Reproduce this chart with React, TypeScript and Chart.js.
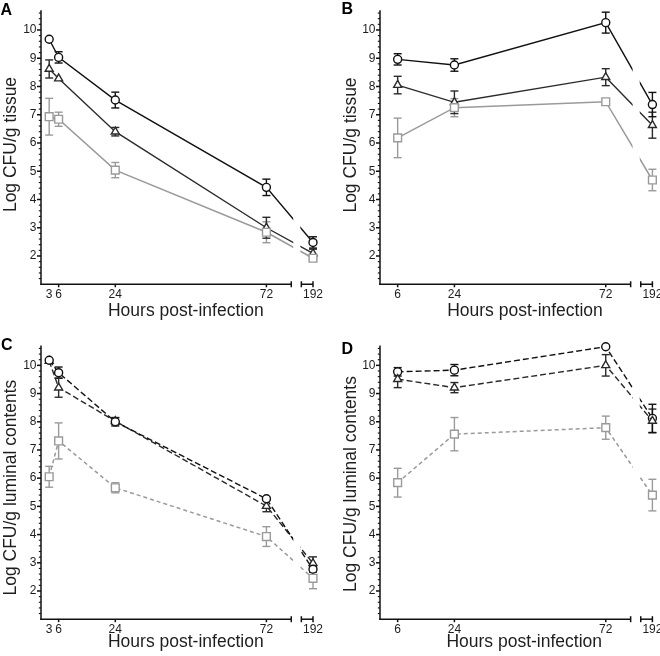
import React, { useEffect, useRef } from 'react';
import { Chart, registerables } from 'chart.js';

Chart.register(...registerables);

// ---------------- DATA ----------------
const HOURS_AC = [3, 6, 24, 72, 192];
const HOURS_BD = [6, 24, 72, 192];
const Y_TICKS = [2, 3, 4, 5, 6, 7, 8, 9, 10];

// Panel A – Log CFU/g tissue
const A_CIRCLE = [9.67, 9.03, 7.52, 4.43, 2.48];
const A_CIRCLE_SEM = [0, 0.2, 0.28, 0.29, 0.2];
const A_TRIANGLE = [8.62, 8.28, 6.4, 3.0, 2.09];
const A_TRIANGLE_SEM = [0.32, 0, 0.15, 0.37, 0.15];
const A_SQUARE = [6.93, 6.84, 5.04, 2.84, 1.92];
const A_SQUARE_SEM = [0.65, 0.25, 0.27, 0.37, 0.08];

// Panel B – Log CFU/g tissue
const B_CIRCLE = [8.96, 8.76, 10.26, 7.36];
const B_CIRCLE_SEM = [0.2, 0.22, 0.37, 0.43];
const B_TRIANGLE = [8.05, 7.44, 8.33, 6.63];
const B_TRIANGLE_SEM = [0.31, 0.4, 0.3, 0.46];
const B_SQUARE = [6.18, 7.25, 7.46, 4.69];
const B_SQUARE_SEM = [0.7, 0.32, 0.1, 0.38];

// Panel C – Log CFU/g luminal contents
const C_CIRCLE = [10.18, 9.74, 8.0, 5.27, 2.77];
const C_CIRCLE_SEM = [0, 0.2, 0.15, 0.05, 0.1];
const C_TRIANGLE = [10.15, 9.21, 8.02, 5.01, 2.98];
const C_TRIANGLE_SEM = [0.05, 0.34, 0.12, 0.2, 0.23];
const C_SQUARE = [6.05, 7.32, 5.66, 3.93, 2.45];
const C_SQUARE_SEM = [0.37, 0.64, 0.18, 0.35, 0.37];

// Panel D – Log CFU/g luminal contents
const D_CIRCLE = [9.77, 9.83, 10.66, 8.12];
const D_CIRCLE_SEM = [0.15, 0.2, 0, 0.5];
const D_TRIANGLE = [9.51, 9.21, 10.0, 8.03];
const D_TRIANGLE_SEM = [0.3, 0.18, 0.38, 0.42];
const D_SQUARE = [5.84, 7.56, 7.79, 5.4];
const D_SQUARE_SEM = [0.51, 0.59, 0.41, 0.56];

// ---------------- AXIS (broken x axis) ----------------
const X_MIN = 0.4;
const X_MAX = 86.8;
const BREAK_START = 79.9;
const BREAK_END = 83.1;
const BREAK_AFTER = 80; // hours beyond this sit on the short segment after the break
const Y_MIN = 1;
const Y_MAX = 10.7;
const Y_MINOR_STEP = 0.2;

function axisPos(h: number) {
  return h > BREAK_AFTER ? X_MAX : h;
}

// ---------------- STYLES ----------------
const FONT = '"Liberation Sans", Arial, Helvetica, sans-serif';
const TEXT = '#1e1e1e';
const AXIS = '#111111';

type Kind = 'circle' | 'triangle' | 'square';
const STYLE: Record<Kind, any> = {
  circle: { color: '#111111', pointStyle: 'circle', radius: 4, lineWidth: 1.4, dash: [6, 3] },
  triangle: { color: '#2a2a2a', pointStyle: 'triangle', radius: 4.6, lineWidth: 1.4, dash: [6, 3] },
  square: { color: '#9a9a9a', pointStyle: 'rect', radius: 5.5, lineWidth: 1.5, dash: [4, 3] },
};

type Series = { kind: Kind; values: number[]; sem: number[] };
type PanelSpec = {
  letter: string;
  hours: number[];
  series: Series[];
  dashed: boolean;
  yTitle: string;
  pos: { left: number; top: number };
  area: { left: number; right: number; top: number; bottom: number };
  letterAt: [number, number];
  xTitleAt: [number, number];
  yTitleAt: [number, number];
};

const W = 330;
const H = 328;

const PANELS: PanelSpec[] = [
  {
    letter: 'A',
    hours: HOURS_AC,
    series: [
      { kind: 'square', values: A_SQUARE, sem: A_SQUARE_SEM },
      { kind: 'triangle', values: A_TRIANGLE, sem: A_TRIANGLE_SEM },
      { kind: 'circle', values: A_CIRCLE, sem: A_CIRCLE_SEM },
    ],
    dashed: false,
    yTitle: 'Log CFU/g tissue',
    pos: { left: 0, top: 0 },
    area: { left: 41, right: 313, top: 10.2, bottom: 284.25 },
    letterAt: [0.5, 15],
    xTitleAt: [185.8, 311.4],
    yTitleAt: [11.3, 144.5],
  },
  {
    letter: 'B',
    hours: HOURS_BD,
    series: [
      { kind: 'square', values: B_SQUARE, sem: B_SQUARE_SEM },
      { kind: 'triangle', values: B_TRIANGLE, sem: B_TRIANGLE_SEM },
      { kind: 'circle', values: B_CIRCLE, sem: B_CIRCLE_SEM },
    ],
    dashed: false,
    yTitle: 'Log CFU/g tissue',
    pos: { left: 330, top: 0 },
    area: { left: 50, right: 322.4, top: 10.2, bottom: 284.25 },
    letterAt: [11.5, 13.8],
    xTitleAt: [195, 311.4],
    yTitleAt: [21.4, 145],
  },
  {
    letter: 'C',
    hours: HOURS_AC,
    series: [
      { kind: 'square', values: C_SQUARE, sem: C_SQUARE_SEM },
      { kind: 'circle', values: C_CIRCLE, sem: C_CIRCLE_SEM },
      { kind: 'triangle', values: C_TRIANGLE, sem: C_TRIANGLE_SEM },
    ],
    dashed: true,
    yTitle: 'Log CFU/g luminal contents',
    pos: { left: 0, top: 328 },
    area: { left: 41, right: 313, top: 17.6, bottom: 291.2 },
    letterAt: [1, 21.6],
    xTitleAt: [185.8, 314.5],
    yTitleAt: [11.3, 159.6],
  },
  {
    letter: 'D',
    hours: HOURS_BD,
    series: [
      { kind: 'square', values: D_SQUARE, sem: D_SQUARE_SEM },
      { kind: 'triangle', values: D_TRIANGLE, sem: D_TRIANGLE_SEM },
      { kind: 'circle', values: D_CIRCLE, sem: D_CIRCLE_SEM },
    ],
    dashed: true,
    yTitle: 'Log CFU/g luminal contents',
    pos: { left: 330, top: 328 },
    area: { left: 50, right: 322.4, top: 17.6, bottom: 291.2 },
    letterAt: [11.5, 26],
    xTitleAt: [194.2, 314.5],
    yTitleAt: [21.4, 156],
  },
];

function line(ctx: CanvasRenderingContext2D, x1: number, y1: number, x2: number, y2: number) {
  ctx.beginPath();
  ctx.moveTo(x1, y1);
  ctx.lineTo(x2, y2);
  ctx.stroke();
}

function buildConfig(p: PanelSpec): any {
  const datasets = p.series.map((s) => {
    const st = STYLE[s.kind];
    return {
      data: p.hours.map((h, i) => ({ x: axisPos(h), y: s.values[i] })),
      sem: s.sem,
      borderColor: st.color,
      backgroundColor: '#ffffff',
      borderWidth: st.lineWidth,
      borderDash: p.dashed ? st.dash : [],
      pointStyle: st.pointStyle,
      pointRadius: st.radius,
      pointBorderColor: st.color,
      pointBackgroundColor: '#ffffff',
      pointBorderWidth: 1.4,
      tension: 0,
      fill: false,
      clip: false,
    };
  });

  const decor = {
    id: 'decor' + p.letter,
    beforeDatasetsDraw(chart: any) {
      const ctx = chart.ctx as CanvasRenderingContext2D;
      const ys = chart.scales.y;
      chart.data.datasets.forEach((ds: any, i: number) => {
        const meta = chart.getDatasetMeta(i);
        ctx.save();
        ctx.strokeStyle = ds.borderColor;
        ctx.lineWidth = 1.4;
        ds.data.forEach((pt: any, j: number) => {
          const e = ds.sem[j];
          if (!e) return;
          const x = meta.data[j].x;
          const yt = ys.getPixelForValue(pt.y + e);
          const yb = ys.getPixelForValue(pt.y - e);
          line(ctx, x, yt, x, yb);
          line(ctx, x - 4, yt, x + 4, yt);
          line(ctx, x - 4, yb, x + 4, yb);
        });
        ctx.restore();
      });
    },
    afterDatasetsDraw(chart: any) {
      const ctx = chart.ctx as CanvasRenderingContext2D;
      const xs = chart.scales.x;
      const { top, bottom } = chart.chartArea;
      const g1 = xs.getPixelForValue(BREAK_START) + 2;
      const g2 = xs.getPixelForValue(BREAK_END) - 1;
      ctx.save();
      ctx.fillStyle = '#ffffff';
      ctx.fillRect(g1, top - 2, g2 - g1, bottom - top + 1);
      ctx.restore();
    },
    afterDraw(chart: any) {
      const ctx = chart.ctx as CanvasRenderingContext2D;
      const xs = chart.scales.x;
      const ys = chart.scales.y;
      const { left, right, top, bottom } = chart.chartArea;
      ctx.save();
      ctx.strokeStyle = AXIS;
      ctx.lineWidth = 1.5;
      // y axis
      line(ctx, left, top, left, bottom + 0.75);
      Y_TICKS.forEach((v) => {
        const y = ys.getPixelForValue(v);
        line(ctx, left - 4, y, left, y);
      });
      ctx.lineWidth = 1.1;
      const nMinor = Math.round((Y_MAX - Y_MIN) / Y_MINOR_STEP);
      for (let k = 1; k <= nMinor; k++) {
        const v = Y_MIN + k * Y_MINOR_STEP;
        if (Math.abs(v - Math.round(v)) < 1e-6) continue;
        const y = ys.getPixelForValue(v);
        line(ctx, left - 2.2, y, left, y);
      }
      // x axis with break
      ctx.lineWidth = 1.5;
      const b1 = xs.getPixelForValue(BREAK_START);
      const b2 = xs.getPixelForValue(BREAK_END);
      line(ctx, left - 0.75, bottom, b1, bottom);
      line(ctx, b1, bottom - 3, b1, bottom + 3);
      line(ctx, b2, bottom, right, bottom);
      line(ctx, b2, bottom - 3, b2, bottom + 3);
      line(ctx, right, bottom - 3, right, bottom + 3);
      p.hours.forEach((h) => {
        if (h > BREAK_AFTER || h === 3) return;
        const x = xs.getPixelForValue(axisPos(h));
        line(ctx, x, bottom, x, bottom + 3);
      });
      ctx.restore();

      // texts
      ctx.save();
      ctx.fillStyle = TEXT;
      ctx.font = `17.5px ${FONT}`;
      ctx.textAlign = 'center';
      ctx.textBaseline = 'middle';
      ctx.fillText('Hours post-infection', p.xTitleAt[0], p.xTitleAt[1]);
      ctx.save();
      ctx.translate(p.yTitleAt[0], p.yTitleAt[1]);
      ctx.rotate(-Math.PI / 2);
      ctx.fillText(p.yTitle, 0, 0);
      ctx.restore();
      ctx.font = `bold 16px ${FONT}`;
      ctx.textAlign = 'left';
      ctx.textBaseline = 'alphabetic';
      ctx.fillStyle = '#000';
      ctx.fillText(p.letter, p.letterAt[0], p.letterAt[1]);
      ctx.restore();
    },
  };

  return {
    type: 'line',
    data: { datasets },
    options: {
      responsive: false,
      animation: false,
      events: [],
      layout: {
        padding: { left: 0, top: p.area.top, right: W - p.area.right, bottom: 0 },
      },
      plugins: { legend: { display: false }, tooltip: { enabled: false } },
      scales: {
        x: {
          type: 'linear',
          min: X_MIN,
          max: X_MAX,
          afterBuildTicks: (s: any) => {
            s.ticks = p.hours.map((h) => ({ value: axisPos(h) }));
          },
          afterFit: (s: any) => {
            s.height = H - p.area.bottom;
            s.paddingLeft = 0;
            s.paddingRight = 0;
            s.paddingTop = 0;
            s.paddingBottom = 0;
          },
          grid: { display: false, drawTicks: true, tickLength: 3 },
          border: { display: false },
          ticks: {
            autoSkip: false,
            maxRotation: 0,
            minRotation: 0,
            padding: 0,
            color: TEXT,
            font: { family: FONT, size: 12 },
            callback: (_v: any, i: number) => String(p.hours[i]),
          },
        },
        y: {
          type: 'linear',
          min: Y_MIN,
          max: Y_MAX,
          afterBuildTicks: (s: any) => {
            s.ticks = Y_TICKS.map((v) => ({ value: v }));
          },
          afterFit: (s: any) => {
            s.width = p.area.left;
            s.paddingLeft = 0;
            s.paddingRight = 0;
            s.paddingTop = 0;
            s.paddingBottom = 0;
          },
          grid: { display: false, drawTicks: true, tickLength: 4 },
          border: { display: false },
          ticks: {
            padding: 0.5,
            color: TEXT,
            font: { family: FONT, size: 12 },
            callback: (v: any) => String(v),
          },
        },
      },
    },
    plugins: [decor],
  };
}

function Panel({ spec }: { spec: PanelSpec }) {
  const ref = useRef<HTMLCanvasElement | null>(null);
  useEffect(() => {
    if (!ref.current) return;
    const chart = new Chart(ref.current, buildConfig(spec));
    return () => chart.destroy();
  }, [spec]);
  return (
    <div style={{ position: 'absolute', left: spec.pos.left, top: spec.pos.top, width: W, height: H }}>
      <canvas ref={ref} width={W} height={H} style={{ display: 'block', width: W, height: H }} />
    </div>
  );
}

export default function App() {
  return (
    <div style={{ position: 'absolute', left: 0, top: 0, width: 660, height: 656, background: '#ffffff' }}>
      {PANELS.map((p) => (
        <Panel key={p.letter} spec={p} />
      ))}
    </div>
  );
}
